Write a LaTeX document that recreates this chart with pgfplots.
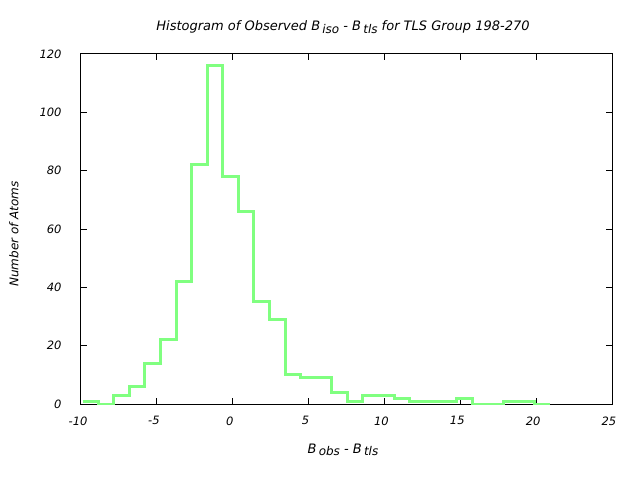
\documentclass[border=0pt]{standalone}
\usepackage{pgfplots}
\pgfplotsset{compat=1.18}
\usepackage{fontspec}
\setmainfont{DejaVu Sans}
\definecolor{histgreen}{RGB}{128,255,128}
\newcommand{\sub}[1]{\raisebox{-0.35ex}{\fontsize{12}{13}\selectfont #1}}
\begin{document}
\begin{tikzpicture}[x=1pt,y=1pt]
\useasboundingbox (0,0) rectangle (640,480);
\begin{axis}[
  at={(81pt,76pt)}, anchor=south west,
  scale only axis, width=531pt, height=350pt,
  xmin=-10, xmax=25, ymin=0, ymax=120,
  xtick={-10,-5,0,5,10,15,20,25},
  xticklabels={-10,-5,0,5,10,15,20,25},
  ytick={0,20,40,60,80,100,120},
  yticklabels={0,20,40,60,80,100,120},
  tick align=inside, major tick length=6pt,
  tick style={black, line width=1pt},
  axis line style={black, line width=1pt},
  ticklabel style={font=\fontsize{11.5}{13}\selectfont\itshape},
  xticklabel style={yshift=-9pt, xshift=-3pt},
  yticklabel style={xshift=-16pt},
  clip=true,
]
\addplot[const plot, color=histgreen, line width=3pt] coordinates {
(-9.900,1) (-8.873,0) (-7.846,3) (-6.819,6) (-5.792,14) (-4.765,22)
(-3.738,42) (-2.711,82) (-1.684,116) (-0.657,78) (0.370,66) (1.397,35)
(2.424,29) (3.451,10) (4.478,9) (5.505,9) (6.532,4) (7.559,1)
(8.586,3) (9.613,3) (10.640,2) (11.667,1) (12.694,1) (13.721,1)
(14.748,2) (15.775,0) (16.802,0) (17.829,1) (18.856,1) (19.883,0)
(20.910,0)
};
\end{axis}
\node[font=\fontsize{13}{15}\selectfont\itshape] at (343,453) {Histogram of Observed B\,\sub{iso} - B\,\sub{tls} for TLS Group 198-270};
\node[font=\fontsize{13}{15}\selectfont\itshape] at (343,30) {B\,\sub{obs} - B\,\sub{tls}};
\node[font=\fontsize{12}{14}\selectfont\itshape, rotate=90] at (14,246) {Number of Atoms};
\end{tikzpicture}
\end{document}
